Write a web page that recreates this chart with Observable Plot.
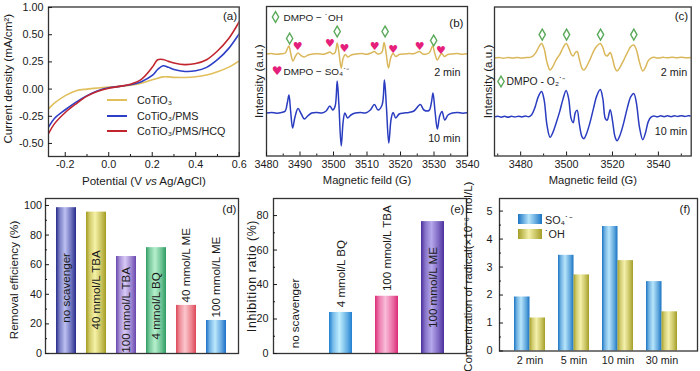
<!DOCTYPE html>
<html><head><meta charset="utf-8">
<script src="https://cdn.jsdelivr.net/npm/d3@7"></script>
<script src="https://cdn.jsdelivr.net/npm/@observablehq/plot@0.6"></script>
<style>
html,body{margin:0;padding:0;background:#fff;}
#fig{position:relative;width:700px;height:371px;overflow:hidden;background:#fff;}
#fig svg{position:absolute;left:0;top:0;}
.leg{position:absolute;color:#222;white-space:nowrap;}
</style></head><body><div id="fig"></div>
<script>
// ---------- (a) CV curves ----------
const cvSeries = ["CoTiO₃", "CoTiO₃/PMS", "CoTiO₃/PMS/HCQ"];
const cvPotential = [-0.277, -0.25, -0.2, -0.15, -0.1, -0.05, 0, 0.05, 0.1, 0.15, 0.2, 0.225, 0.25, 0.275, 0.3, 0.35, 0.4, 0.45, 0.5, 0.55, 0.6];
const cvCoTiO3 = [-0.183, -0.13, -0.06, -0.015, 0.0, 0.01, 0.018, 0.025, 0.035, 0.055, 0.085, 0.1, 0.112, 0.112, 0.108, 0.107, 0.113, 0.13, 0.16, 0.2, 0.26];
const cvPMS    = [-0.35, -0.27, -0.19, -0.12, -0.06, -0.015, 0.012, 0.025, 0.04, 0.068, 0.125, 0.18, 0.215, 0.2, 0.18, 0.162, 0.168, 0.2, 0.27, 0.37, 0.51];
const cvHCQ    = [-0.41, -0.32, -0.215, -0.135, -0.065, -0.02, 0.008, 0.025, 0.045, 0.09, 0.2, 0.27, 0.272, 0.255, 0.24, 0.225, 0.235, 0.27, 0.35, 0.46, 0.62];
const cvXTicks = [-0.2, 0, 0.2, 0.4, 0.6];
const cvXMinor = [-0.1, 0.1, 0.3, 0.5];
const cvYTicks = [0.75, 0.5, 0.25, 0, -0.25, -0.5];
const cvYTickLabels = ["1.00", "0.50", "0.25", "0.00", "-0.25", "-0.50"];
const cvXTitle = "Potential (V vs Ag/AgCl)";
const cvYTitle = "Current density (mA/cm²)";

// ---------- (b) EPR DMPO-OH / DMPO-SO4 ----------
const eprB2min = [[3480,10.2],[3481.5,10.24],[3483,10.17],[3484.5,10.22],[3485.6,10.3],[3486.2,10.7],[3486.7,11.0],[3487.2,10.3],[3487.9,9.5],[3488.6,9.95],[3489.4,10.3],[3490.3,10.05],[3491.3,9.9],[3492.4,10.1],[3493.8,10.2],[3495.5,10.22],[3497,10.18],[3498.2,10.3],[3498.9,10.4],[3499.8,10.2],[3500.5,10.35],[3501.1,11.3],[3501.6,10.4],[3502.3,8.8],[3502.9,9.8],[3503.5,10.15],[3504.3,9.9],[3505.3,10.1],[3506.8,10.2],[3508.5,10.24],[3510,10.18],[3511.2,10.3],[3512.2,10.45],[3513.2,10.2],[3514.4,10.35],[3515.1,11.35],[3515.7,10.3],[3516.4,8.8],[3517.1,9.85],[3517.8,10.25],[3518.6,9.95],[3519.6,10.15],[3521,10.2],[3522.5,10.24],[3524.2,10.25],[3525.7,10.45],[3526.7,10.2],[3528.5,10.3],[3529.6,11.0],[3530.2,10.3],[3531,9.6],[3531.7,10.0],[3532.3,10.25],[3533.1,9.95],[3534.1,10.15],[3535.5,10.2],[3537,10.24],[3538.5,10.18],[3540,10.22]];
const eprB10min = [[3480,4.3],[3481.5,4.36],[3483,4.28],[3484.5,4.35],[3485.6,4.5],[3486.2,5.3],[3486.7,6.1],[3487.2,4.5],[3487.8,2.8],[3488.5,3.9],[3489.4,4.75],[3490.3,4.25],[3491.3,3.7],[3492.3,4.0],[3493.5,4.3],[3495,4.35],[3496.5,4.3],[3497.8,4.5],[3498.9,5.0],[3499.8,4.6],[3500.5,5.0],[3501.1,7.5],[3501.6,5.2],[3502.3,1.0],[3502.9,3.5],[3503.4,4.3],[3504.2,3.8],[3505.2,4.1],[3506.5,4.3],[3508,4.35],[3509.5,4.3],[3511,4.6],[3512.2,5.15],[3513.3,4.6],[3514.5,5.1],[3515.2,7.6],[3515.8,4.9],[3516.5,1.3],[3517.2,3.7],[3517.8,4.35],[3518.6,3.8],[3519.6,4.2],[3521,4.3],[3522.5,4.35],[3524,4.5],[3525.9,5.15],[3527,4.6],[3528.5,4.55],[3529.2,5.3],[3529.7,6.3],[3530.3,4.5],[3531.0,2.7],[3531.7,4.0],[3532.4,4.45],[3533.2,3.6],[3534.2,4.1],[3535.5,4.3],[3537,4.36],[3538.5,4.28],[3540,4.32]];
const bOHMarkField = [3486.9, 3501.1, 3515.4, 3529.9];
const bOHMarkLevel = [11.75, 12.45, 12.45, 11.55];
const bSO4MarkField = [3489.3, 3498.9, 3503.3, 3512.3, 3517.8, 3525.7, 3532.1];
const bSO4MarkLevel = [11.0, 11.23, 10.77, 11.0, 10.67, 11.0, 10.57];
const bXTicks = [3480, 3490, 3500, 3510, 3520, 3530, 3540];
const bXMinor = [3485, 3495, 3505, 3515, 3525, 3535];
const bLegOH = "DMPO − ˙OH";
const bLegSO4 = "DMPO − SO₄˙⁻";

// ---------- (c) EPR DMPO-O2 ----------
const eprC2min = [[3468.6,9.75],[3470.5,9.8],[3472.5,9.74],[3474.5,9.8],[3476.5,9.75],[3478.5,9.8],[3480.5,9.76],[3482.5,9.8],[3484,9.82],[3485.3,9.95],[3486.6,10.3],[3488,10.9],[3489.1,11.2],[3490.2,10.7],[3491.5,9.3],[3492.8,8.55],[3494,8.9],[3495.5,9.6],[3497,10.1],[3498.5,10.8],[3499.8,11.2],[3500.9,10.8],[3502,10.15],[3502.9,9.95],[3503.8,10.3],[3504.6,10.4],[3505.6,9.6],[3506.8,8.7],[3507.6,8.55],[3508.7,8.9],[3510.2,9.6],[3511.7,10.4],[3513.2,10.95],[3514.7,11.2],[3515.8,10.8],[3516.9,10.05],[3517.7,9.95],[3519,10.3],[3520,9.7],[3521.1,8.75],[3522,8.45],[3523.2,8.8],[3524.8,9.5],[3526.5,10.3],[3528,10.9],[3529.3,11.05],[3530.4,10.6],[3531.8,9.3],[3533.2,8.45],[3534.4,8.85],[3535.6,9.5],[3536.8,9.75],[3538,9.82],[3540,9.76],[3542,9.82],[3544,9.77],[3546,9.83],[3548,9.78],[3550,9.83],[3552,9.79],[3554.3,9.82]];
const eprC10min = [[3468.6,3.88],[3470,3.95],[3471.5,3.85],[3473,3.93],[3474.5,3.84],[3476,3.94],[3477.5,3.86],[3479,3.95],[3480.5,3.87],[3482,3.96],[3483.5,3.9],[3484.8,4.1],[3486.2,4.8],[3487.7,5.9],[3489.1,6.4],[3490.2,5.6],[3491.5,3.0],[3492.8,1.85],[3494,2.3],[3495.5,3.3],[3497,4.4],[3498.5,5.7],[3499.8,6.5],[3500.9,5.7],[3502,3.7],[3502.9,3.3],[3503.8,4.3],[3504.6,4.55],[3505.6,3.1],[3506.8,1.85],[3507.6,1.7],[3508.7,2.2],[3510.2,3.3],[3511.7,4.7],[3513.2,6.0],[3514.7,6.6],[3515.8,5.7],[3516.9,3.7],[3517.7,3.55],[3519,4.6],[3520,3.5],[3521.1,1.9],[3522,1.5],[3523.2,2.0],[3524.8,3.2],[3526.5,4.8],[3528,5.9],[3529.3,6.2],[3530.4,5.3],[3531.8,2.8],[3533.2,1.6],[3534.4,2.3],[3535.6,3.4],[3536.8,3.85],[3538,3.97],[3539.5,3.88],[3541,3.98],[3542.5,3.9],[3544,3.99],[3545.5,3.9],[3547,3.98],[3548.5,3.92],[3550,4.0],[3551.5,3.92],[3553,3.98],[3554.3,3.95]];
const cO2MarkField = [3489.4, 3500.0, 3514.8, 3529.3];
const cO2MarkLevel = [12.1, 12.1, 12.1, 12.1];
const cXTicks = [3480, 3500, 3520, 3540];
const cXMinor = [3470, 3490, 3510, 3530, 3550];
const cLegO2 = "DMPO - O₂˙⁻";
const eprTitleX = "Magnetic feild (G)";
const eprTitleY = "Intensity (a.u.)";
const timeLabels = ["2 min", "10 min"];

// ---------- (d) removal efficiency ----------
const dCats = ["no scavenger", "40 mmol/L TBA", "100 mmol/L TBA", "4 mmol/L BQ", "40 mmol/L ME", "100 mmol/L ME"];
const dVals = [98.5, 95.5, 65.5, 71.5, 32.5, 22.3];
const dYTicks = [0, 20, 40, 60, 80, 100];
const dYMinor = [10, 30, 50, 70, 90];
const dTitle = "Removal efficiency (%)";

// ---------- (e) inhibition ratio ----------
const eCats = ["no scavenger", "4 mmol/L BQ", "100 mmol/L TBA", "100 mmol/L ME"];
const eVals = [0, 23.8, 33.2, 76.5];
const eYTicks = [0, 20, 40, 60, 80];
const eYMinor = [10, 30, 50, 70];
const eTitle = "Inhibition ratio (%)";

// ---------- (f) radical concentration ----------
const fTimes = ["2 min", "5 min", "10 min", "30 min"];
const fSeries = ["SO₄˙⁻", "˙OH"];
const fSO4 = [1.93, 3.42, 4.45, 2.48];
const fOH = [1.18, 2.72, 3.23, 1.40];
const fYTicks = [0, 1, 2, 3, 4, 5];
const fYMinor = [0.5, 1.5, 2.5, 3.5, 4.5];
const fTitle = "Concentration of radical(×10⁻⁶ mol/L)";

// ---------- styles ----------
const cvColors = ["#e0bf5c", "#2d3fc6", "#c1262f"];
const GOLD = "#dab75a", BLUE = "#2a3cc0";
const GREEN = "#5aa95a", MAGENTA = "#e5207a";
const dDark = ["#272b8c", "#a39b1f", "#6846ae", "#2e9c62", "#dd4858", "#1a6ec6"];
const dLight = ["#bcc0f0", "#f6f2a8", "#d8caf5", "#b6efcd", "#fbc6cc", "#bce9fd"];
const eDark = ["#1f7fd0", "#1f7fd0", "#dc2a77", "#4a2f9c"];
const eLight = ["#c0eeff", "#c0eeff", "#f9bcd9", "#b6a8ec"];
const fDark = ["#1a74c4", "#a49e26"];
const fLight = ["#b8e5fb", "#f4f0aa"];

// font detection (narrow sans if installed)
const ctx = document.createElement("canvas").getContext("2d");
ctx.font = "40px 'Liberation Sans Narrow', monospace"; const wN = ctx.measureText("Potential density").width;
ctx.font = "40px monospace"; const wM = ctx.measureText("Potential density").width;
const NARROW = Math.abs(wN - wM) > 1;
const REG = "'Liberation Sans', Arial, Helvetica, sans-serif";
const FONT = NARROW ? "'Liberation Sans Narrow', " + REG : REG;
const K = NARROW ? 1 : 0.83;
const fs = s => +(s * K).toFixed(2);

const fig = document.getElementById("fig");
const W = 700, H = 371;

function panel([l, t, r, b], opts) {
  const svg = Plot.plot({
    width: W, height: H,
    marginLeft: l, marginTop: t, marginRight: W - r, marginBottom: H - b,
    ...opts,
    style: {background: "transparent", overflow: "visible", fontFamily: FONT, fontSize: fs(13) + "px", color: "#1a1a1a"}
  });
  fig.appendChild(svg);
  return svg;
}
function addGradients(svg, prefix, darks, lights) {
  const defs = d3.select(svg).insert("defs", ":first-child");
  darks.forEach((dk, i) => {
    const g = defs.append("linearGradient").attr("id", prefix + i)
      .attr("x1", "0").attr("x2", "1").attr("y1", "0").attr("y2", "0");
    const mix = d3.interpolateRgb(dk, lights[i]);
    [[0, dk], [0.18, mix(0.55)], [0.45, lights[i]], [0.78, mix(0.45)], [1, dk]].forEach(([o, c]) =>
      g.append("stop").attr("offset", o).attr("stop-color", c));
  });
}
const frame = () => Plot.frame({stroke: "#333", strokeWidth: 1.3});
const yTitle = (s, dx, dy, size = 14, family) => Plot.text([s], {frameAnchor: "left", rotate: -90, dx, dy, textAnchor: "middle", lineAnchor: "middle", fontSize: fs(size), fontFamily: family});
const xTitle = (s, dy, size = 13.5) => Plot.text([s], {frameAnchor: "bottom", dy, textAnchor: "middle", lineAnchor: "middle", fontSize: fs(size)});
const letter = (s, dx, dy) => Plot.text([s], {frameAnchor: "top-right", dx, dy, textAnchor: "end", lineAnchor: "middle", fontSize: fs(14)});

// ---------- panel (a) ----------
const cvRows = [cvCoTiO3, cvPMS, cvHCQ].flatMap((ys, k) => cvPotential.map((x, i) => ({x, y: ys[i], s: cvSeries[k]})));
panel([48, 6.5, 238.7, 156], {
  x: {domain: [-0.277, 0.6]},
  y: {domain: [-0.62, 0.755]},
  color: {domain: cvSeries, range: cvColors},
  marks: [
    Plot.line(cvRows, {x: "x", y: "y", z: "s", stroke: "s", strokeWidth: 1.6, curve: "catmull-rom", clip: true}),
    frame(),
    Plot.axisX(cvXTicks, {tickSize: -4, tickPadding: 8, tickFormat: d => d.toFixed(1), label: null}),
    Plot.axisX(cvXMinor, {tickSize: -2, tickFormat: () => "", label: null}),
    Plot.axisY(cvYTicks, {tickSize: -4, tickPadding: 9, tickFormat: d => cvYTickLabels[cvYTicks.indexOf(d)], label: null}),
    yTitle(cvYTitle, -40, -3, 14),
    xTitle(cvXTitle, 25, 14),
    letter("(a)", -2, 9)
  ]
});

// ---------- panel (b) ----------
const ohB = bOHMarkField.map((x, i) => ({x, y: bOHMarkLevel[i]}));
const so4B = bSO4MarkField.map((x, i) => ({x, y: bSO4MarkLevel[i]}));
panel([266, 6, 467, 155.5], {
  x: {domain: [3480, 3540]},
  y: {domain: [0, 14.95], axis: null},
  marks: [
    Plot.line(eprB2min, {x: d => d[0], y: d => d[1], stroke: GOLD, strokeWidth: 1.5, curve: "catmull-rom", clip: true}),
    Plot.line(eprB10min, {x: d => d[0], y: d => d[1], stroke: BLUE, strokeWidth: 1.5, curve: "catmull-rom", clip: true}),
    Plot.dot(ohB, {x: "x", y: "y", symbol: "diamond", r: 3.3, stroke: GREEN, strokeWidth: 1.4, fill: "white"}),
    Plot.text(so4B, {x: "x", y: "y", text: () => "♥", fill: MAGENTA, fontSize: 11, fontFamily: "'DejaVu Sans', sans-serif"}),
    Plot.dot(["◇"], {frameAnchor: "top-left", dx: 9, dy: 10.5, symbol: "diamond", r: 3.3, stroke: GREEN, strokeWidth: 1.4, fill: "white"}),
    Plot.text([bLegOH], {frameAnchor: "top-left", dx: 17, dy: 11, textAnchor: "start", lineAnchor: "middle", fontSize: fs(12)}),
    Plot.text(["♥"], {frameAnchor: "left", dx: 10.5, dy: -10, textAnchor: "middle", lineAnchor: "middle", fill: MAGENTA, fontSize: 12, fontFamily: "'DejaVu Sans', sans-serif"}),
    Plot.text([bLegSO4], {frameAnchor: "left", dx: 17, dy: -9.5, textAnchor: "start", lineAnchor: "middle", fontSize: fs(12)}),
    Plot.text([timeLabels[0]], {frameAnchor: "right", dx: -7, dy: -9, textAnchor: "end", lineAnchor: "middle", fontSize: fs(13)}),
    Plot.text([timeLabels[1]], {frameAnchor: "right", dx: -7, dy: 57, textAnchor: "end", lineAnchor: "middle", fontSize: fs(13)}),
    frame(),
    Plot.axisX(bXTicks, {tickSize: -4, tickPadding: 8, label: null, tickFormat: d => String(d)}),
    Plot.axisX(bXMinor, {tickSize: -2, tickFormat: () => "", label: null}),
    yTitle(eprTitleY, -7, 0, 14),
    xTitle(eprTitleX, 24.5, 13.5),
    letter("(b)", -4, 17)
  ]
});

// ---------- panel (c) ----------
const o2C = cO2MarkField.map((x, i) => ({x, y: cO2MarkLevel[i]}));
panel([494, 6.5, 690.7, 155.5], {
  x: {domain: [3468.6, 3554.3]},
  y: {domain: [-0.03, 14.85], axis: null},
  marks: [
    Plot.line(eprC2min, {x: d => d[0], y: d => d[1], stroke: GOLD, strokeWidth: 1.5, curve: "catmull-rom", clip: true}),
    Plot.line(eprC10min, {x: d => d[0], y: d => d[1], stroke: BLUE, strokeWidth: 1.5, curve: "catmull-rom", clip: true}),
    Plot.dot(o2C, {x: "x", y: "y", symbol: "diamond", r: 3.3, stroke: GREEN, strokeWidth: 1.4, fill: "white"}),
    Plot.dot(["◇"], {frameAnchor: "left", dx: 6.5, dy: 0, symbol: "diamond", r: 3.3, stroke: GREEN, strokeWidth: 1.4, fill: "white"}),
    Plot.text([cLegO2], {frameAnchor: "left", dx: 12, dy: 0, textAnchor: "start", lineAnchor: "middle", fontSize: fs(12.5)}),
    Plot.text([timeLabels[0]], {frameAnchor: "right", dx: -4, dy: -9, textAnchor: "end", lineAnchor: "middle", fontSize: fs(13)}),
    Plot.text([timeLabels[1]], {frameAnchor: "right", dx: -4, dy: 50.5, textAnchor: "end", lineAnchor: "middle", fontSize: fs(13)}),
    frame(),
    Plot.axisX(cXTicks, {tickSize: -4, tickPadding: 8, label: null, tickFormat: d => String(d)}),
    Plot.axisX(cXMinor, {tickSize: -2, tickFormat: () => "", label: null}),
    yTitle(eprTitleY, -6, 0, 14),
    xTitle(eprTitleX, 24.5, 13.5),
    letter("(c)", -3, 9)
  ]
});

// ---------- panel (d) ----------
const dRows = dCats.map((c, i) => ({c, v: dVals[i], g: `url(#gd${i})`}));
const svgD = panel([45, 198, 238, 353], {
  x: {domain: dCats, paddingInner: 0.333, paddingOuter: 0.38, align: 0.5, axis: null},
  y: {domain: [0, 104.7]},
  color: {type: "identity"},
  marks: [
    Plot.barY(dRows, {x: "c", y: "v", fill: "g"}),
    Plot.text(dRows, {filter: d => d.v > 50, x: "c", y: d => d.v * 0.45, text: "c", rotate: -90, fontSize: fs(14), fill: "#1a1a1a"}),
    Plot.text(dRows, {filter: d => d.v <= 50, x: "c", y: d => d.v + 2, text: "c", rotate: -90, textAnchor: "start", fontSize: fs(14), fill: "#1a1a1a"}),
    frame(),
    Plot.axisY(dYTicks, {tickSize: -4, tickPadding: 7.5, label: null}),
    Plot.axisY(dYMinor, {tickSize: -2, tickFormat: () => "", label: null}),
    yTitle(dTitle, -31, 4, 14),
    letter("(d)", -2, 11)
  ]
});
addGradients(svgD, "gd", dDark, dLight);

// ---------- panel (e) ----------
const eRows = eCats.map((c, i) => ({c, v: eVals[i], g: `url(#ge${i})`}));
const svgE = panel([273, 198, 466, 353], {
  x: {domain: eCats, paddingInner: 0.49, paddingOuter: 0.3, align: 0.32, axis: null},
  y: {domain: [0, 89.9]},
  color: {type: "identity"},
  marks: [
    Plot.barY(eRows, {x: "c", y: "v", fill: "g"}),
    Plot.text(eRows, {filter: d => d.v > 50, x: "c", y: d => d.v / 2, text: "c", rotate: -90, fontSize: fs(14), fill: "#1a1a1a"}),
    Plot.text(eRows, {filter: d => d.v <= 50, x: "c", y: d => d.v + 3, text: "c", rotate: -90, textAnchor: "start", fontSize: fs(14), fill: "#1a1a1a"}),
    frame(),
    Plot.axisY(eYTicks, {tickSize: -4, tickPadding: 9, label: null}),
    Plot.axisY(eYMinor, {tickSize: -2, tickFormat: () => "", label: null}),
    yTitle(eTitle, -21, 0, 15),
    letter("(e)", -2, 11)
  ]
});
addGradients(svgE, "ge", eDark, eLight);

// ---------- panel (f) ----------
const fRowsA = fTimes.map((t, i) => ({t, v: fSO4[i]}));
const fRowsB = fTimes.map((t, i) => ({t, v: fOH[i]}));
const svgF = panel([499, 198, 697, 350.5], {
  x: {domain: fTimes, paddingInner: 0.306, paddingOuter: 0.37, align: 0.43},
  y: {domain: [0, 5.45]},
  color: {type: "identity"},
  marks: [
    Plot.barY(fRowsA, {x: "t", y: "v", fill: () => "url(#gf0)", insetRight: 15.5}),
    Plot.barY(fRowsB, {x: "t", y: "v", fill: () => "url(#gf1)", insetLeft: 15.5}),
    frame(),
    Plot.axisX(fTimes, {tickSize: 0, tickPadding: 5, label: null}),
    Plot.axisY(fYTicks, {tickSize: -4, tickPadding: 11, label: null}),
    Plot.axisY(fYMinor, {tickSize: -2, tickFormat: () => "", label: null}),
    yTitle(fTitle, -31, 2, 14),
    letter("(f)", -7, 11)
  ]
});
addGradients(svgF, "gf", fDark, fLight);

// italic "vs" in the potential axis title
d3.select(fig).selectAll("text").filter(function () { return this.textContent === cvXTitle; }).each(function () {
  const t = d3.select(this); t.text(null);
  t.append("tspan").text("Potential (V ");
  t.append("tspan").attr("font-style", "italic").text("vs");
  t.append("tspan").text(" Ag/AgCl)");
});
// the (e) title is set slightly wider in the reference
d3.select(fig).selectAll("text").filter(function () { return this.textContent === eTitle; })
  .style("letter-spacing", "0.6px");

// ---------- HTML legends ----------
const legA = d3.select(fig).append("div").attr("class", "leg")
  .style("left", "107px").style("top", "92.5px").style("font-family", FONT).style("font-size", fs(13) + "px");
cvSeries.forEach((s, i) => {
  const row = legA.append("div").style("display", "flex").style("align-items", "center").style("height", "15.6px");
  row.append("span").style("display", "inline-block").style("width", "20px").style("height", "2px")
    .style("background", cvColors[i]).style("margin-right", "10px");
  row.append("span").text(s);
});
const legF = d3.select(fig).append("div").attr("class", "leg")
  .style("left", "518px").style("top", "211.5px").style("font-family", FONT).style("font-size", fs(13) + "px");
fSeries.forEach((s, i) => {
  const row = legF.append("div").style("display", "flex").style("align-items", "center").style("height", "15px");
  row.append("span").style("display", "inline-block").style("width", "24px").style("height", "10px")
    .style("background", `linear-gradient(to right, ${fDark[i]}, ${fLight[i]} 45%, ${fDark[i]})`).style("margin-right", "3px");
  row.append("span").text(s);
});
</script></body></html>
